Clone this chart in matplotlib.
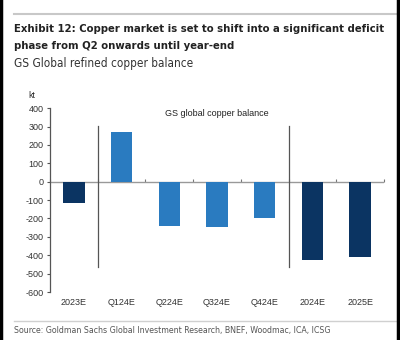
import matplotlib
matplotlib.use("Agg")
import matplotlib.pyplot as plt
from matplotlib.lines import Line2D

# ---------- data ----------
categories = ["2023E", "Q124E", "Q224E", "Q324E", "Q424E", "2024E", "2025E"]
balance_kt = [-115, 268, -241, -247, -200, -424, -411]
is_annual = [True, False, False, False, False, True, True]
divider_pos = [0.5, 4.5]
y_ticks = [400, 300, 200, 100, 0, -100, -200, -300, -400, -500, -600]

navy = "#0b3462"
blue = "#2a7bc0"
plain = ["Liberation Sans", "DejaVu Sans"]

fig = plt.figure(figsize=(4.0, 3.4), dpi=100)
ax = fig.add_axes([0.125, 0.141, 0.835, 0.541])

colors = [navy if a else blue for a in is_annual]
x = list(range(len(categories)))
ax.bar(x, balance_kt, width=0.45, color=colors, zorder=2)

ax.set_xlim(-0.5, 6.5)
ax.set_ylim(-600, 400)
ax.set_yticks(y_ticks)
ax.set_yticklabels([str(v) for v in y_ticks], family=plain, fontsize=6.5, color="#333333")
ax.tick_params(axis="y", length=2.5, width=0.8, color="#555555", pad=2)

ax.set_xticks(x)
ax.set_xticklabels(categories, family=plain, fontsize=6.5, color="#333333")
ax.tick_params(axis="x", length=0, pad=4)

for side in ["top", "right", "bottom"]:
    ax.spines[side].set_visible(False)
ax.spines["left"].set_color("#555555")
ax.spines["left"].set_linewidth(0.9)

# zero line with boundary ticks
ax.axhline(0, color="#999999", lw=1.0, zorder=1)
zero = ax.secondary_xaxis(0.6)
zero.set_xticks([v + 0.5 for v in range(-1, 7)])
zero.set_xticklabels([])
zero.tick_params(length=2.5, width=0.8, color="#777777", direction="out")
for s in zero.spines.values():
    s.set_visible(False)

for d in divider_pos:
    ax.plot([d, d], [305, -465], color="#555555", lw=0.9, zorder=3)

ax.text(3.0, 370, "GS global copper balance", ha="center", va="center",
        family=plain, fontsize=6.5, color="#222222")
fig.text(28 / 400, 1 - 95 / 340, "kt", ha="left", va="center",
         family=plain, fontsize=6.5, color="#333333")

# header / footer (condensed face as stand-in for the narrow house font)
head = dict(family="DejaVu Sans", stretch="condensed")
fig.text(14 / 400, 1 - 29 / 340,
         "Exhibit 12: Copper market is set to shift into a significant deficit",
         ha="left", va="center", fontsize=8.1, fontweight="bold", color="#222222", **head)
fig.text(14 / 400, 1 - 46 / 340, "phase from Q2 onwards until year-end",
         ha="left", va="center", fontsize=8.1, fontweight="bold", color="#222222", **head)
fig.text(14 / 400, 1 - 64 / 340, "GS Global refined copper balance",
         ha="left", va="center", fontsize=8.5, color="#333333", **head)
fig.text(14 / 400, 1 - 331 / 340,
         "Source: Goldman Sachs Global Investment Research, BNEF, Woodmac, ICA, ICSG",
         ha="left", va="center", fontsize=6.3, color="#555555", **head)

fig.add_artist(Line2D([14 / 400, 1.0], [1 - 14 / 340] * 2, color="#c8c8c8", lw=1.5))
fig.add_artist(Line2D([14 / 400, 1.0], [1 - 321 / 340] * 2, color="#d0d0d0", lw=1.0))
fig.add_artist(Line2D([0.003, 0.003], [0, 1], color="black", lw=2.5))
fig.add_artist(Line2D([0.996, 0.996], [0, 1], color="black", lw=2.5))

fig.savefig("out.png", dpi=100)
